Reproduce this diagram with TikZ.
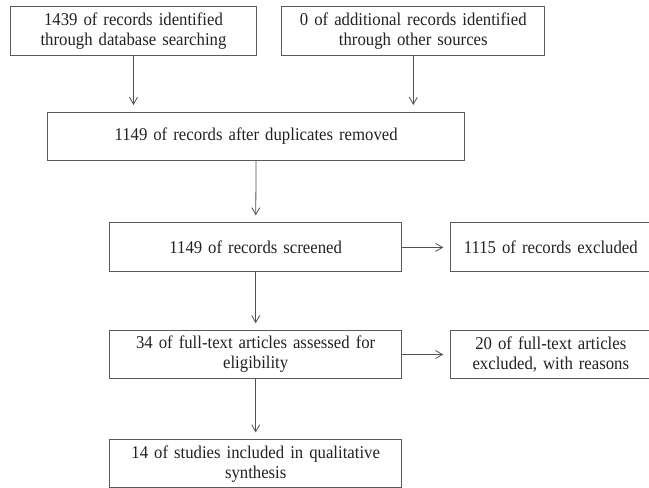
\documentclass[tikz,border=0pt]{standalone}
\usepackage{fontspec}
\setmainfont[FakeStretch=0.93]{Liberation Serif}
\usepackage{tikz}
\usetikzlibrary{arrows.meta}
\pgfdeclarelayer{edgelayer}
\pgfdeclarelayer{nodelayer}
\pgfsetlayers{edgelayer,nodelayer,main}
\definecolor{boxline}{HTML}{5A5A5A}
\definecolor{boxtext}{HTML}{222222}
\tikzstyle{record_box}=[rectangle,draw=boxline,line width=1pt,inner sep=0pt,align=center,text=boxtext,font=\fontsize{18}{20}\selectfont]
\tikzstyle{flow}=[-{Straight Barb[length=7pt,width=8pt]},draw=boxline!90!black,line width=0.8pt,shorten >=7pt]

\begin{document}
\begin{tikzpicture}[x=1pt,y=-1pt]
	\useasboundingbox (0, 0) rectangle (649, 488);
	\begin{pgfonlayer}{nodelayer}
		\node [style={record_box}, text width=246pt, minimum height=49pt] (0) at (133.5, 31.4) {1439 of records identified\\through database searching};
		\node [style={record_box}, text width=263pt, minimum height=49pt] (1) at (413.3, 31.4) {0 of additional records identified\\through other sources};
		\node [style={record_box}, text width=417pt, minimum height=48pt] (2) at (256.1, 136.5) {1149 of records after duplicates removed};
		\node [style={record_box}, text width=292pt, minimum height=49pt] (3) at (255.7, 247.4) {1149 of records screened};
		\node [style={record_box}, text width=200pt, minimum height=49pt] (4) at (550.8, 247.4) {1115 of records excluded};
		\node [style={record_box}, text width=292pt, minimum height=47.5pt] (5) at (255.7, 354.5) {34 of full-text articles assessed for\\eligibility};
		\node [style={record_box}, text width=200pt, minimum height=47.5pt] (6) at (550.8, 354.5) {20 of full-text articles\\excluded, with reasons};
		\node [style={record_box}, text width=292pt, minimum height=47.5pt] (7) at (255.7, 463.7) {14 of studies included in qualitative\\synthesis};
	\end{pgfonlayer}
	\begin{pgfonlayer}{edgelayer}
		\draw [style=flow] (0.south) to (0.south |- 2.north);
		\draw [style=flow] (1.south) to (1.south |- 2.north);
		\draw [style=flow] (2.south) to (3.north);
		\draw [style=flow] (3.east) to (4.west);
		\draw [style=flow] (3.south) to (5.north);
		\draw [style=flow] (5.east) to (6.west);
		\draw [style=flow] (5.south) to (7.north);
	\end{pgfonlayer}
\end{tikzpicture}
\end{document}
